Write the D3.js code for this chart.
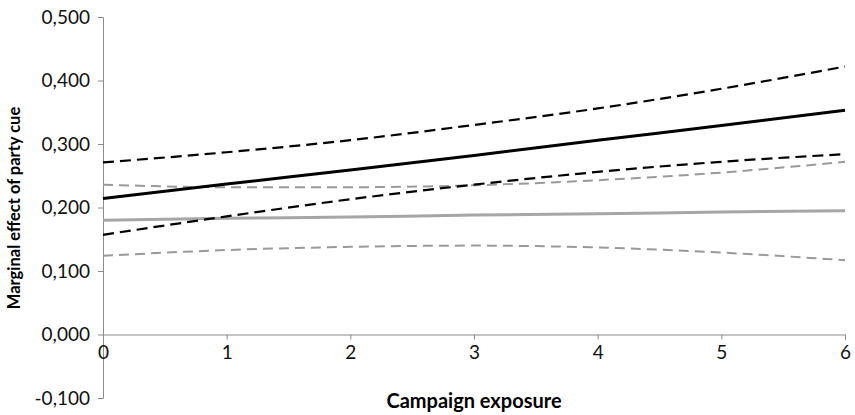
<!DOCTYPE html>
<html><head><meta charset="utf-8">
<script src="https://cdn.jsdelivr.net/npm/d3@7"></script>
<style>body{margin:0;background:#fff}svg{display:block}text{font-family:Lato,"Open Sans",sans-serif}</style>
</head><body><svg id="c" width="855" height="415"></svg>
<script>
const exposure = [0, 1, 2, 3, 4, 5, 6];
const blackEffect = [0.214, 0.237, 0.259, 0.282, 0.306, 0.329, 0.353];
const blackUpper  = [0.271, 0.287, 0.306, 0.330, 0.356, 0.387, 0.422];
const blackLower  = [0.157, 0.186, 0.213, 0.236, 0.256, 0.272, 0.284];
const grayEffect  = [0.180, 0.183, 0.185, 0.188, 0.190, 0.193, 0.195];
const grayUpper   = [0.236, 0.232, 0.232, 0.235, 0.243, 0.255, 0.272];
const grayLower   = [0.124, 0.133, 0.138, 0.140, 0.137, 0.129, 0.117];
const yTicks = [-0.1, 0, 0.1, 0.2, 0.3, 0.4, 0.5];
const xTicks = [0, 1, 2, 3, 4, 5, 6];
const xTitle = "Campaign exposure";
const yTitle = "Marginal effect of party cue";

const svg = d3.select("#c");
const x = d3.scaleLinear().domain([0, 6]).range([103, 845]);
const y = d3.scaleLinear().domain([-0.1, 0.5]).range([398, 17]);
const fmt = v => d3.format(".3f")(v).replace(".", ",").replace("−", "-");
const axisColor = "#8c8c8c";

// y axis
const gy = svg.append("g").attr("transform", `translate(${x(0)},0)`)
  .call(d3.axisLeft(y).tickValues(yTicks).tickFormat(fmt).tickSizeOuter(0).tickSize(5).tickPadding(8));
gy.select(".domain").attr("stroke", axisColor);
gy.selectAll(".tick line").attr("stroke", axisColor);
gy.selectAll("text").attr("font-size", 19).attr("fill", "#111").attr("font-family", "Lato");

// x axis at y=0
const gx = svg.append("g").attr("transform", `translate(0,${y(0)})`)
  .call(d3.axisBottom(x).tickValues(xTicks).tickFormat(d3.format("d")).tickSizeOuter(0).tickSize(5).tickPadding(6));
gx.select(".domain").attr("stroke", axisColor);
gx.selectAll(".tick line").attr("stroke", axisColor);
gx.selectAll("text").attr("font-size", 19).attr("fill", "#111").attr("font-family", "Lato");

const line = d3.line().x((d, i) => x(exposure[i])).y(d => y(d)).curve(d3.curveMonotoneX);
const series = [
  {v: grayLower, c: "#9a9a9a", w: 2, dash: "10,6"},
  {v: grayUpper, c: "#9a9a9a", w: 2, dash: "10,6"},
  {v: grayEffect, c: "#a6a6a6", w: 3, dash: null},
  {v: blackLower, c: "#000", w: 2.2, dash: "11,6"},
  {v: blackUpper, c: "#000", w: 2.2, dash: "11,6"},
  {v: blackEffect, c: "#000", w: 3, dash: null}
];
svg.append("g").selectAll("path").data(series).join("path")
  .attr("d", s => line(s.v)).attr("fill", "none")
  .attr("stroke", s => s.c).attr("stroke-width", s => s.w)
  .attr("stroke-dasharray", s => s.dash);

svg.append("text").attr("x", (x(0) + x(6)) / 2).attr("y", 408).attr("text-anchor", "middle")
  .attr("font-size", 20).attr("font-weight", "bold").attr("fill", "#000").text(xTitle);
svg.append("text").attr("transform", `translate(20,208) rotate(-90)`).attr("text-anchor", "middle")
  .attr("font-size", 16.5).attr("font-weight", "bold").attr("fill", "#000").text(yTitle);
</script></body></html>
